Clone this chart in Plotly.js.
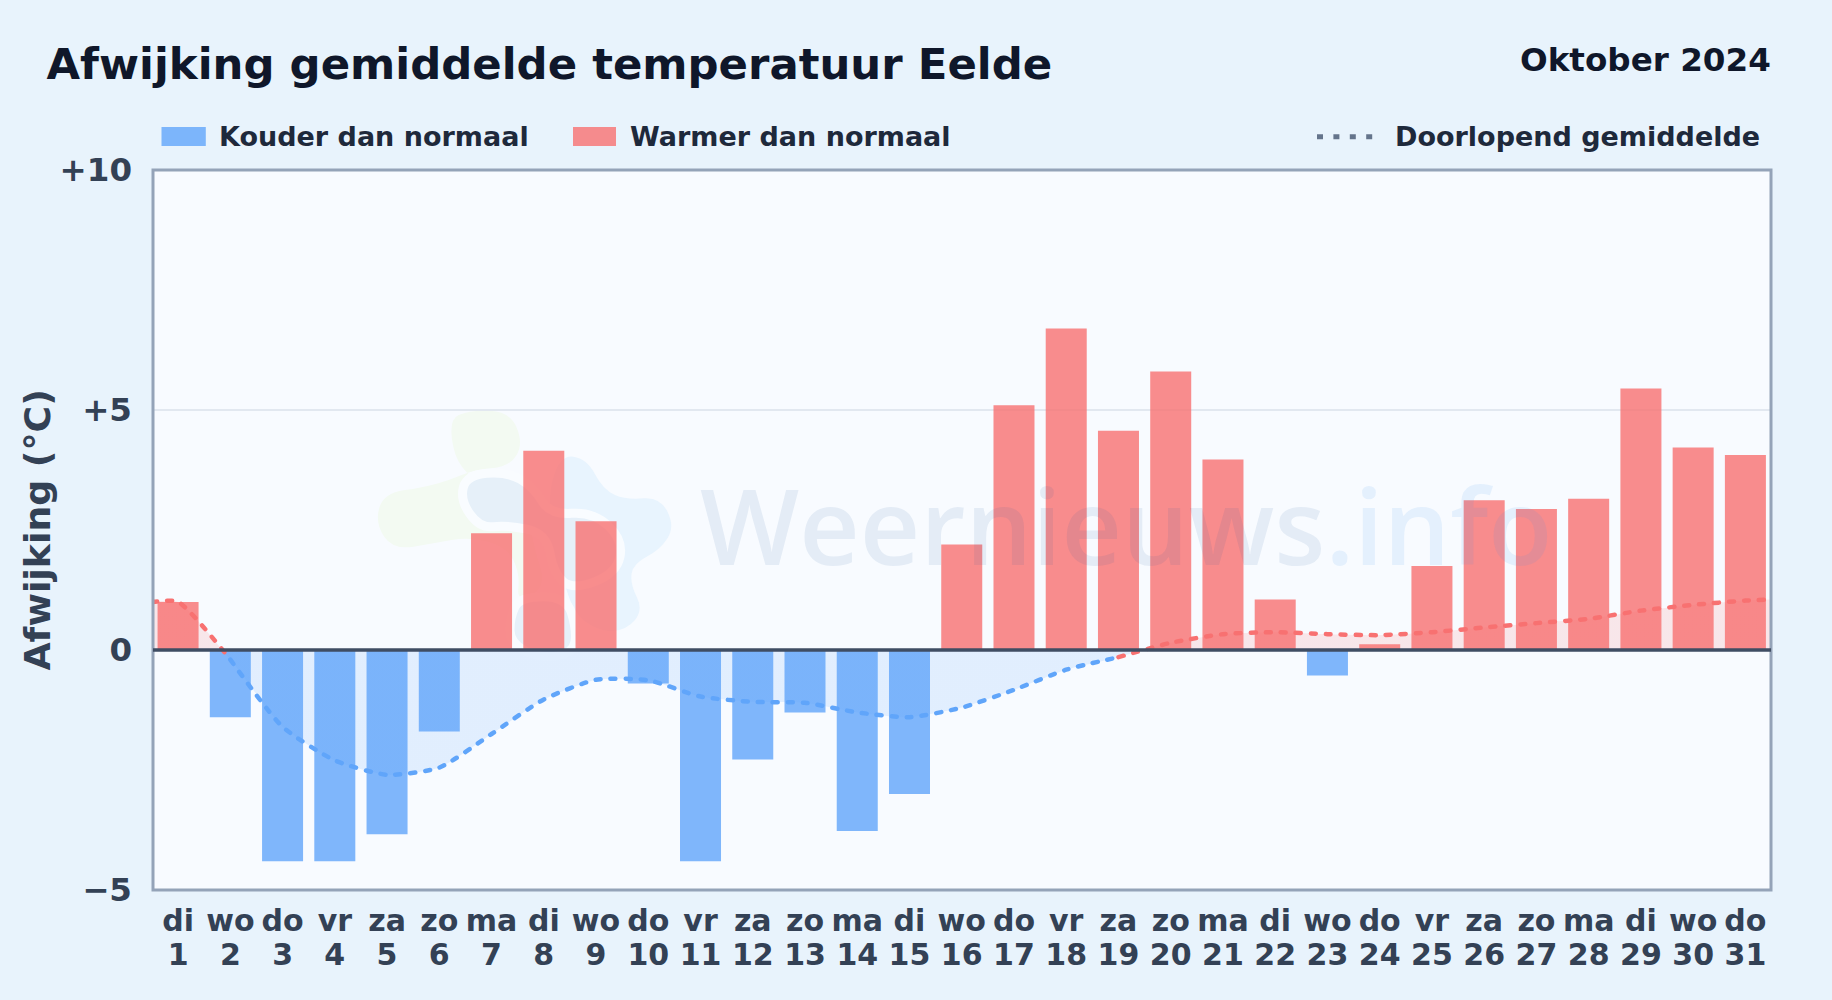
<!DOCTYPE html>
<html>
<head>
<meta charset="utf-8">
<script src="https://cdn.plot.ly/plotly-3.0.1.min.js"></script>
<style>
html,body{margin:0;padding:0;background:#e8f3fc;overflow:hidden}
#chart{width:1832px;height:1000px}
.js-line{stroke-linecap:round}
</style>
</head>
<body>
<div id="chart"></div>
<script>
const days = [1,2,3,4,5,6,7,8,9,10,11,12,13,14,15,16,17,18,19,20,21,22,23,24,25,26,27,28,29,30,31];
const weekdays = ["di","wo","do","vr","za","zo","ma","di","wo","do","vr","za","zo","ma","di","wo","do","vr","za","zo","ma","di","wo","do","vr","za","zo","ma","di","wo","do"];
const deviation = [1.0,-1.4,-4.4,-4.4,-3.84,-1.7,2.43,4.15,2.68,-0.7,-4.4,-2.28,-1.3,-3.77,-3.0,2.2,5.1,6.7,4.57,5.8,3.97,1.05,-0.53,0.12,1.75,3.12,2.94,3.15,5.45,4.22,4.06];
const meanX = [0.5,1,2,3,4,5,6,7,8,9,10,11,12,13,14,15,16,17,18,19,20,21,22,23,24,25,26,27,28,29,30,31,31.5];
const meanY = [1.0,1.0,-0.2,-1.6,-2.3,-2.6,-2.45,-1.75,-1.03,-0.62,-0.63,-0.97,-1.08,-1.1,-1.3,-1.4,-1.2,-0.83,-0.41,-0.15,0.15,0.33,0.37,0.33,0.31,0.37,0.47,0.56,0.65,0.82,0.94,1.03,1.05];
const yTicks = [10,5,0,-5];
const yTickLabels = ["+10","+5","0","−5"];
const labelCold = "Kouder dan normaal";
const labelWarm = "Warmer dan normaal";
const labelMean = "Doorlopend gemiddelde";

const W = 1832, H = 1000;
const M = {l:153, r:61, t:170, b:110};
const FONT = "DejaVu Sans, sans-serif";
const BLUE = "#60a5fa", RED = "#f87171";
const BLUE_BAR = "rgba(96,165,250,0.8)", RED_BAR = "rgba(248,113,113,0.8)";
const BLUE_FILL = "rgba(96,165,250,0.15)", RED_FILL = "rgba(248,113,113,0.15)";

const fx = p => (p - M.l) / (W - M.l - M.r);
const fy = p => 1 - (p - M.t) / (H - M.t - M.b);

function blob(pts, fill, halo) {
  const P = pts.map(([a, b]) => [fx(360 + a / 3), fy(400 + b / 3)]);
  const mid = (a, b) => [(a[0] + b[0]) / 2, (a[1] + b[1]) / 2];
  let s = "M" + mid(P[P.length - 1], P[0]).join(" ");
  P.forEach((p, i) => {
    const m = mid(p, P[(i + 1) % P.length]);
    s += " Q" + p.join(" ") + " " + m.join(" ");
  });
  return {type:"path", path:s+" Z", xref:"paper", yref:"paper", layer:"below", fillcolor:fill,
          line:{color:halo || "rgba(0,0,0,0)", width:halo ? 9 : 0}};
}

const logo = [
  blob([[262,60],[330,30],[450,35],[490,130],[450,200],[340,210],[270,240],[190,262],[70,280],[45,370],[100,450],[220,430],[330,410],[440,440],[480,520],[470,610],[560,560],[520,440],[500,300],[300,230]], "#f3faf2"),
  blob([[600,165],[680,175],[730,270],[800,300],[900,290],[945,380],[900,450],[820,490],[810,550],[850,630],[800,690],[720,695],[640,640],[600,500],[560,300]], "#e8f4fe"),
  blob([[450,650],[480,590],[620,590],[650,690],[640,760],[540,775],[450,730]], "#e6f0f9", "#f9fcff"),
  blob([[300,300],[320,225],[440,215],[520,260],[570,345],[700,335],[790,420],[770,520],[640,570],[580,520],[560,400],[440,375],[360,385]], "#e6f0f9", "#f9fcff")
];

const idx = (from, to) => meanX.map((x, i) => [x, i]).filter(([x]) => x >= from && x <= to).map(([, i]) => i);
const seg = (from, to, color) => {
  const ii = idx(from, to);
  return {type:"scatter", mode:"lines", x:ii.map(i => meanX[i]), y:ii.map(i => meanY[i]),
    xaxis:"x2", yaxis:"y", hoverinfo:"skip", showlegend:false,
    line:{color, width:4.5, dash:"5px,10px", shape:"spline", smoothing:0.6}};
};

const traces = [
  {type:"scatter", mode:"lines", x:meanX, y:meanY, xaxis:"x", yaxis:"y", fill:"tozeroy",
   fillcolor:BLUE_FILL, hoverinfo:"skip", showlegend:false,
   fillgradient:{type:"vertical", start:-5, stop:10,
     colorscale:[[0,BLUE_FILL],[0.3333,BLUE_FILL],[0.3334,RED_FILL],[1,RED_FILL]]},
   line:{width:0, shape:"spline", smoothing:0.6}},
  {type:"bar", name:labelCold, x:days.filter((d,i)=>deviation[i]<0), y:deviation.filter(v=>v<0),
   marker:{color:BLUE_BAR, line:{width:0}}, hoverinfo:"x+y", showlegend:false},
  {type:"bar", name:labelWarm, x:days.filter((d,i)=>deviation[i]>=0), y:deviation.filter(v=>v>=0),
   marker:{color:RED_BAR, line:{width:0}}, hoverinfo:"x+y", showlegend:false},
  seg(0.5, 2, RED),
  seg(2, 19, BLUE),
  seg(19, 31.5, RED)
];

const legendText = (text, x) => ({text, xref:"paper", yref:"paper", x:fx(x), y:fy(137), xanchor:"left", yanchor:"middle",
  showarrow:false, font:{family:FONT, size:27, weight:700, color:"#1e293b"}});

const xRange = [0.52, 31.49];

const layout = {
  width:W, height:H, margin:M,
  paper_bgcolor:"#e8f3fc", plot_bgcolor:"#f8fbff",
  font:{family:FONT, color:"#334155"},
  showlegend:false, barmode:"overlay", bargap:0.215,
  title:{text:"Afwijking gemiddelde temperatuur Eelde", xref:"container", yref:"container",
    x:46.5/W, y:1-63.5/H, xanchor:"left", yanchor:"middle",
    font:{family:FONT, size:43.4, weight:700, color:"#0f172a"}},
  xaxis:{range:xRange, tickmode:"array", tickvals:days, ticktext:weekdays, tickangle:0,
    showgrid:false, zeroline:false, showline:false, ticks:"", ticklabelstandoff:10,
    tickfont:{family:FONT, size:30, weight:700, color:"#334155"}, fixedrange:true},
  xaxis2:{range:xRange, overlaying:"x", anchor:"y", side:"bottom", tickmode:"array", tickvals:days,
    ticktext:days.map(String), tickangle:0, showgrid:false, zeroline:false, showline:false, ticks:"", ticklabelstandoff:44,
    tickfont:{family:FONT, size:30, weight:700, color:"#334155"}, fixedrange:true},
  yaxis:{range:[-5,10], tickmode:"array", tickvals:yTicks, ticktext:yTickLabels,
    showgrid:true, gridcolor:"#e2e8f0", gridwidth:2, zeroline:false, showline:false, ticks:"", ticklabelstandoff:20,
    tickfont:{family:FONT, size:32.5, weight:700, color:"#334155"}, fixedrange:true},
  shapes:[
    ...logo,
    {type:"rect", xref:"paper", yref:"paper", x0:0, x1:1, y0:0, y1:1, layer:"above", line:{color:"#94a3b8", width:3}},
    {type:"line", xref:"paper", yref:"y", x0:0, x1:1, y0:0, y1:0, layer:"above", line:{color:"#3f4d63", width:3.4}},
    {type:"rect", xref:"paper", yref:"paper", x0:fx(161.5), x1:fx(205.8), y0:fy(146), y1:fy(127), layer:"above", fillcolor:BLUE_BAR, line:{width:0}},
    {type:"rect", xref:"paper", yref:"paper", x0:fx(573), x1:fx(616), y0:fy(146), y1:fy(127), layer:"above", fillcolor:RED_BAR, line:{width:0}},
    {type:"line", xref:"paper", yref:"paper", x0:fx(1317), x1:fx(1373), y0:fy(136.7), y1:fy(136.7), layer:"above", line:{color:"#64748b", width:5, dash:"6px,10.4px"}}
  ],
  annotations:[
    {text:"<span style='color:rgba(36,92,160,0.09)'>Weernieuws</span><span style='color:rgba(59,150,240,0.1)'>.info</span>",
     xref:"paper", yref:"paper", x:fx(1126), y:fy(524.5), xanchor:"center", yanchor:"middle", showarrow:false,
     font:{family:"Open Sans, sans-serif", size:105, weight:600, color:"#245ca0"}},
    {text:"Afwijking (°C)", xref:"paper", yref:"paper", x:fx(36.5), y:fy(530), xanchor:"center", yanchor:"middle",
     textangle:-90, showarrow:false, font:{family:FONT, size:36.3, weight:700, color:"#334155"}},
    {text:"Oktober 2024", xref:"paper", yref:"paper", x:fx(1773), y:fy(60), xanchor:"right", yanchor:"middle",
     showarrow:false, font:{family:FONT, size:32.6, weight:700, color:"#0f172a"}},
    legendText(labelCold, 217),
    legendText(labelWarm, 628),
    legendText(labelMean, 1393)
  ]
};

Plotly.newPlot("chart", traces, layout, {displayModeBar:false, staticPlot:true});
</script>
</body>
</html>
